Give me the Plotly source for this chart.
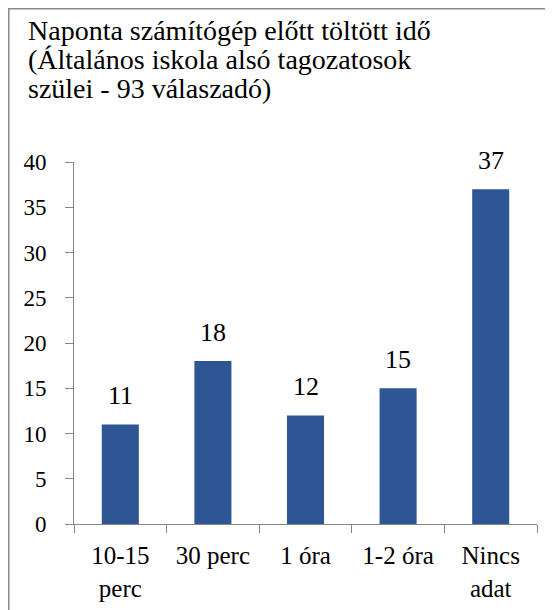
import plotly.graph_objects as go

categories = ["10-15<br>perc", "30 perc", "1 óra", "1-2 óra", "Nincs<br>adat"]
values = [11, 18, 12, 15, 37]
title_lines = [
    "Naponta számítógép előtt töltött idő",
    "(Általános iskola alsó tagozatosok",
    "szülei - 93 válaszadó)",
]
y_ticks = [0, 5, 10, 15, 20, 25, 30, 35, 40]

OFF = 8  # default page body margin
W, H = 553 - OFF, 610 - OFF
# plot area in page pixels: x 74..537, y 162..524
L, R, T, B = 74 - OFF, W - (537 - OFF), 162 - OFF, H - (524 - OFF)
pw, ph = W - L - R, H - T - B

def px_x(px):
    return (px - OFF - L) / pw

def px_y(py):
    return (H - B - (py - OFF)) / ph

FONT = "'Liberation Serif', 'Times New Roman', Tinos, 'DejaVu Serif', serif"
BAR = "#2E5594"
AXIS = "#868686"

fig = go.Figure()
fig.add_trace(go.Bar(
    x=categories, y=values,
    marker=dict(color=BAR, line=dict(width=0)),
    hoverinfo="skip",
))

annotations = []
for c, v in zip(categories, values):
    annotations.append(dict(
        x=c, y=v, xref="x", yref="y", text=str(v), showarrow=False,
        yanchor="bottom", yshift=12,
        font=dict(family=FONT, size=26, color="#000000"),
    ))

title_y = [30, 59.5, 89]
for line, py in zip(title_lines, title_y):
    annotations.append(dict(
        x=px_x(26), y=px_y(py), xref="paper", yref="paper", text=line,
        showarrow=False, xanchor="left", yanchor="middle",
        font=dict(family=FONT, size=28, color="#000000"),
    ))

fig.update_layout(
    width=W, height=H,
    margin=dict(l=L, r=R, t=T, b=B, pad=0, autoexpand=False),
    paper_bgcolor="white", plot_bgcolor="white",
    showlegend=False,
    bargap=0.6,
    annotations=annotations,
    shapes=[dict(
        type="rect", xref="paper", yref="paper",
        x0=px_x(OFF + 0.75), x1=px_x(W + 40), y0=px_y(H + 40), y1=px_y(OFF + 0.75),
        line=dict(color="#888888", width=1.5), fillcolor="rgba(0,0,0,0)",
        layer="below",
    )],
    xaxis=dict(
        type="category", automargin=False,
        showline=True, linecolor=AXIS, linewidth=1,
        ticks="outside", ticklen=8, tickcolor=AXIS, tickwidth=1,
        tickson="boundaries",
        showgrid=False, zeroline=False,
        ticklabelstandoff=9,
        tickfont=dict(family=FONT, size=25, color="#000000"),
        fixedrange=True,
    ),
    yaxis=dict(
        range=[0, 40], tickvals=y_ticks, automargin=False,
        showline=True, linecolor=AXIS, linewidth=1,
        ticks="outside", ticklen=8, tickcolor=AXIS, tickwidth=1,
        showgrid=False, zeroline=False,
        ticklabelstandoff=14,
        tickfont=dict(family=FONT, size=23, color="#000000"),
        fixedrange=True,
    ),
)

fig.write_html("out.html", config={"displayModeBar": False})
